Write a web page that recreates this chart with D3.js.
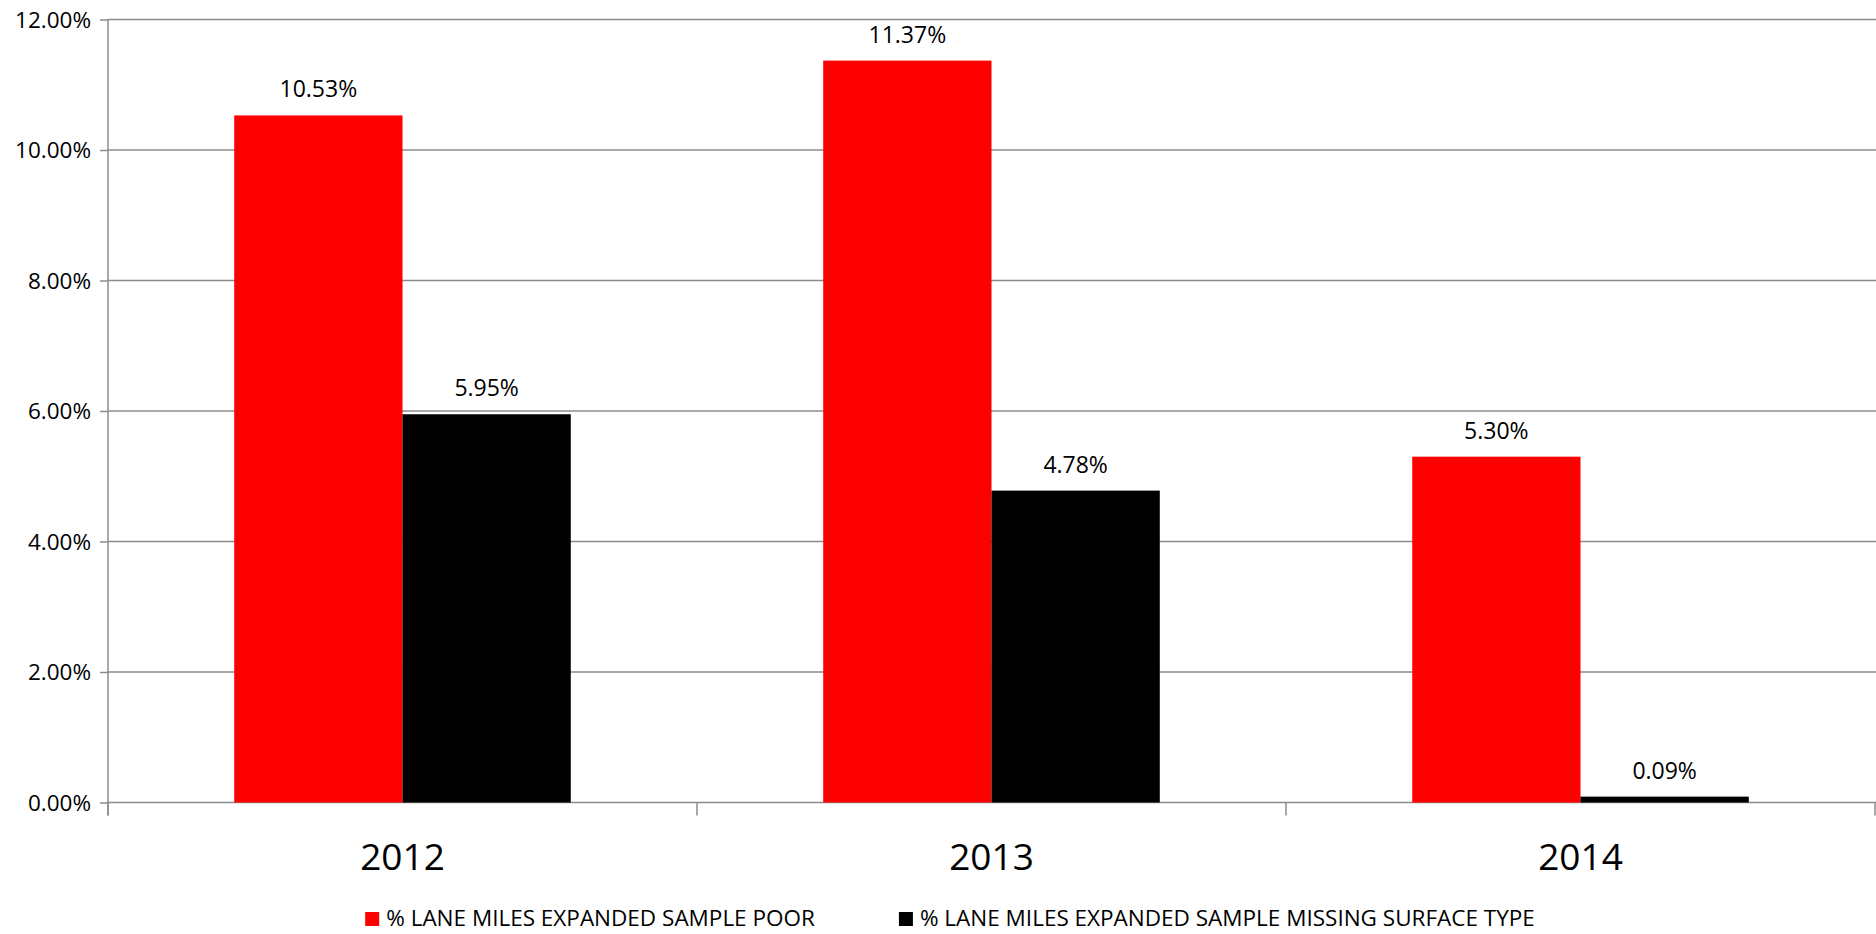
<!DOCTYPE html>
<html>
<head>
<meta charset="utf-8">
<script src="https://cdn.jsdelivr.net/npm/d3@7"></script>
<style>
  html, body { margin: 0; padding: 0; background: #ffffff; }
  svg { display: block; }
  text { font-family: "Open Sans", "Liberation Sans", sans-serif; fill: #000; }
</style>
</head>
<body>
<svg id="chart" width="1876" height="934"></svg>
<script>
const categories = ["2012", "2013", "2014"];
const seriesNames = ["% LANE MILES EXPANDED SAMPLE POOR", "% LANE MILES EXPANDED SAMPLE MISSING SURFACE TYPE"];
const seriesColors = ["#ff0000", "#000000"];
const poorValues = [10.53, 11.37, 5.30];
const missingValues = [5.95, 4.78, 0.09];
const yTicks = [0, 2, 4, 6, 8, 10, 12];

(function () {
const series = [poorValues, missingValues];

const svg = d3.select("#chart");
const pLeft = 108, pRight = 1875, pTop = 19.5, pBottom = 802.5;
const gridColor = "#8c8c8c";

const y = d3.scaleLinear().domain([0, 12]).range([pBottom, pTop]);
const x0 = d3.scaleBand().domain(categories).range([pLeft, pRight]).padding(0);
const bw = x0.bandwidth();
const x1 = d3.scaleBand().domain(d3.range(series.length))
  .range([bw * 0.75 / 3.5, bw * 2.75 / 3.5]).padding(0);

// gridlines
svg.append("g").selectAll("line").data(yTicks).join("line")
  .attr("x1", pLeft).attr("x2", pRight + 1)
  .attr("y1", d => y(d)).attr("y2", d => y(d))
  .attr("stroke", gridColor).attr("stroke-width", 1.5);

// bars
const groups = svg.append("g").selectAll("g").data(categories).join("g")
  .attr("transform", c => `translate(${x0(c)},0)`);
series.forEach((vals, si) => {
  groups.append("rect")
    .attr("x", x1(si))
    .attr("width", x1.bandwidth())
    .attr("y", (c, i) => y(vals[i]))
    .attr("height", (c, i) => y(0) - y(vals[i]))
    .attr("fill", seriesColors[si]);
  groups.append("text")
    .attr("x", x1(si) + x1.bandwidth() / 2)
    .attr("y", (c, i) => y(vals[i]) - 18)
    .attr("text-anchor", "middle")
    .attr("font-size", 23)
    .text((c, i) => vals[i].toFixed(2) + "%");
});

// y axis
const yAxis = d3.axisLeft(y).tickValues(yTicks).tickSize(8).tickPadding(9)
  .tickFormat(d => d.toFixed(2) + "%");
const gy = svg.append("g").attr("transform", `translate(${pLeft},0)`).call(yAxis);
gy.select(".domain").remove();
gy.selectAll(".tick line").attr("stroke", gridColor).attr("stroke-width", 1.5);
gy.selectAll(".tick text").attr("font-size", 22.5).attr("font-family", "Open Sans").attr("fill", "#000").attr("dy", "0.35em");
svg.append("line").attr("x1", pLeft).attr("x2", pLeft).attr("y1", pTop).attr("y2", pBottom + 13)
  .attr("stroke", gridColor).attr("stroke-width", 1.5);

// x axis
const xAxis = d3.axisBottom(x0).tickSize(0).tickPadding(0);
const gx = svg.append("g").attr("transform", `translate(0,${pBottom})`).call(xAxis);
gx.select(".domain").remove();
gx.selectAll(".tick text").attr("font-size", 37).attr("font-family", "Open Sans").attr("fill", "#000")
  .attr("y", 67).attr("dy", 0);
const boundaries = categories.map(c => x0(c)).concat([x0(categories[categories.length - 1]) + bw]);
svg.append("g").selectAll("line").data(boundaries).join("line")
  .attr("x1", d => d).attr("x2", d => d).attr("y1", pBottom).attr("y2", pBottom + 13)
  .attr("stroke", gridColor).attr("stroke-width", 1.5);

// legend
const legend = svg.append("g");
const items = legend.selectAll("g").data(seriesNames).join("g");
items.append("rect").attr("width", 14).attr("height", 14).attr("y", 912)
  .attr("fill", (d, i) => seriesColors[i]);
items.append("text").attr("x", 21).attr("y", 926).attr("font-size", 22.5).text(d => d);
const widths = [];
items.each(function () {
  const w = d3.select(this).select("text").node().getComputedTextLength() + 21;
  widths.push(w);
});
const gap = 84;
const total = d3.sum(widths) + gap * (widths.length - 1);
let start = 950 - total / 2;
items.attr("transform", (d, i) => {
  const t = `translate(${start},0)`;
  start += widths[i] + gap;
  return t;
});
})();
</script>
</body>
</html>
